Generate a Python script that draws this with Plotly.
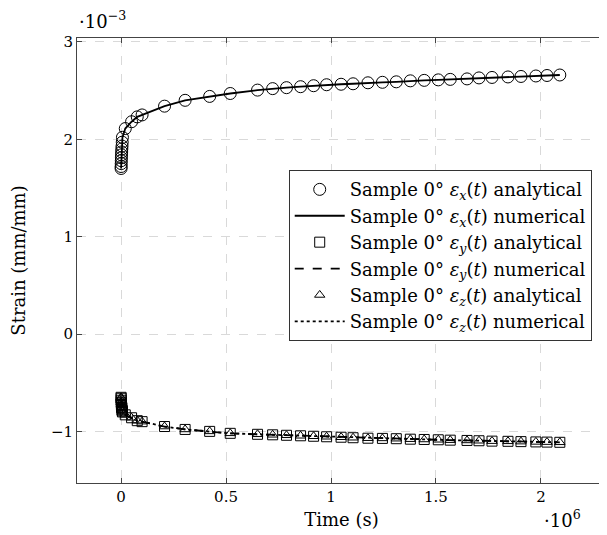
import plotly.graph_objects as go

# time in units of 10^6 s, strain in units of 10^-3 mm/mm
t_Ms = [0, 0.0003, 0.0006, 0.001, 0.0015, 0.002, 0.0028, 0.0036, 0.0045, 0.0055, 0.0065,
        0.02, 0.05, 0.077, 0.1, 0.207, 0.305, 0.422, 0.52, 0.65,
        0.722, 0.788, 0.855, 0.917, 0.979, 1.048, 1.105, 1.176, 1.245, 1.311, 1.378,
        1.444, 1.511, 1.568, 1.648, 1.705, 1.767, 1.843, 1.905, 1.976, 2.029, 2.09]

eps_x = [1.70, 1.72, 1.75, 1.78, 1.81, 1.84, 1.87, 1.90, 1.93, 1.97, 2.02,
         2.11, 2.18, 2.23, 2.25, 2.34, 2.40, 2.44, 2.47, 2.505,
         2.52, 2.53, 2.54, 2.55, 2.56, 2.565, 2.57, 2.58, 2.585, 2.59, 2.60,
         2.605, 2.61, 2.615, 2.62, 2.63, 2.635, 2.64, 2.645, 2.65, 2.655, 2.66]

eps_y = [-0.65, -0.66, -0.68, -0.70, -0.72, -0.73, -0.75, -0.76, -0.78, -0.79, -0.80,
         -0.83, -0.86, -0.89, -0.90, -0.95, -0.98, -1.00, -1.02, -1.03,
         -1.035, -1.04, -1.045, -1.05, -1.055, -1.06, -1.065, -1.07, -1.072, -1.075, -1.08,
         -1.083, -1.086, -1.09, -1.093, -1.096, -1.10, -1.102, -1.105, -1.108, -1.11, -1.112]

eps_z = [-0.65, -0.66, -0.68, -0.70, -0.72, -0.73, -0.75, -0.76, -0.78, -0.79, -0.80,
         -0.83, -0.86, -0.89, -0.90, -0.95, -0.98, -1.00, -1.02, -1.03,
         -1.035, -1.04, -1.045, -1.05, -1.055, -1.06, -1.065, -1.07, -1.072, -1.075, -1.08,
         -1.083, -1.086, -1.09, -1.093, -1.096, -1.10, -1.102, -1.105, -1.108, -1.11, -1.112]

x_ticks = [0, 0.5, 1, 1.5, 2]
x_tick_labels = ["0", "0.5", "1", "1.5", "2"]
y_ticks = [-1, 0, 1, 2, 3]
y_tick_labels = ["−1", "0", "1", "2", "3"]

names = [
    "Sample 0° <i>ε<sub>x</sub></i>(<i>t</i>) analytical",
    "Sample 0° <i>ε<sub>x</sub></i>(<i>t</i>) numerical",
    "Sample 0° <i>ε<sub>y</sub></i>(<i>t</i>) analytical",
    "Sample 0° <i>ε<sub>y</sub></i>(<i>t</i>) numerical",
    "Sample 0° <i>ε<sub>z</sub></i>(<i>t</i>) analytical",
    "Sample 0° <i>ε<sub>z</sub></i>(<i>t</i>) numerical",
]

FONT = "DejaVu Serif"
TICK_FS = 15
TITLE_FS = 18
LEG_FS = 18
fig = go.Figure()

fig.add_trace(go.Scatter(x=t_Ms, y=eps_x, mode="markers", name=names[0],
                         marker=dict(symbol="circle-open", size=12, color="black", line=dict(width=1))))
fig.add_trace(go.Scatter(x=t_Ms, y=eps_x, mode="lines", name=names[1],
                         line=dict(color="black", width=1.8)))
fig.add_trace(go.Scatter(x=t_Ms, y=eps_y, mode="markers", name=names[2],
                         marker=dict(symbol="square-open", size=10, color="black", line=dict(width=1))))
fig.add_trace(go.Scatter(x=t_Ms, y=eps_y, mode="lines", name=names[3],
                         line=dict(color="black", width=1.8, dash="dash")))
fig.add_trace(go.Scatter(x=t_Ms, y=eps_z, mode="markers", name=names[4],
                         marker=dict(symbol="triangle-up-open", size=9, color="black", line=dict(width=1))))
fig.add_trace(go.Scatter(x=t_Ms, y=eps_z, mode="lines", name=names[5],
                         line=dict(color="black", width=1.8, dash="dot")))

axis_common = dict(showline=True, linecolor="#444", linewidth=1, mirror="ticks",
                   ticks="inside", ticklen=5, tickcolor="#444", automargin=False,
                   showgrid=True, gridcolor="#d9d9d9", griddash="dash", gridwidth=1,
                   zeroline=False, tickfont=dict(family=FONT, size=TICK_FS, color="black"),
                   title_font=dict(family=FONT, size=TITLE_FS, color="black"))

fig.update_xaxes(range=[-0.21, 2.31], tickvals=x_ticks, ticktext=x_tick_labels,
                 title_text="Time (s)", title_standoff=8, **axis_common)
fig.update_yaxes(range=[-1.53, 3.04], tickvals=y_ticks, ticktext=y_tick_labels,
                 title_text="Strain (mm/mm)", title_standoff=20, **axis_common)

fig.add_annotation(text="·10<sup>−3</sup>", xref="paper", yref="paper", x=0.0, y=1.0,
                   xanchor="left", yanchor="bottom", yshift=4, showarrow=False,
                   font=dict(family=FONT, size=TITLE_FS, color="black"))
fig.add_annotation(text="·10<sup>6</sup>", xref="paper", yref="paper", x=0.917, y=0,
                   xanchor="center", yanchor="top", yshift=-22, showarrow=False,
                   font=dict(family=FONT, size=TITLE_FS, color="black"))

# browser body has an 8px margin: shrink the figure so it fits the 607x535 window
fig.update_layout(
    width=599, height=527,
    margin=dict(l=69, r=1, t=30, b=52),
    plot_bgcolor="white", paper_bgcolor="white",
    font=dict(family=FONT, size=LEG_FS, color="black"),
    legend=dict(x=0.973, y=0.703, xanchor="right", yanchor="top",
                bgcolor="white", bordercolor="#333", borderwidth=1,
                font=dict(family=FONT, size=LEG_FS, color="black"),
                itemwidth=50, tracegroupgap=0),
    showlegend=True,
)

fig.write_html("out.html")
